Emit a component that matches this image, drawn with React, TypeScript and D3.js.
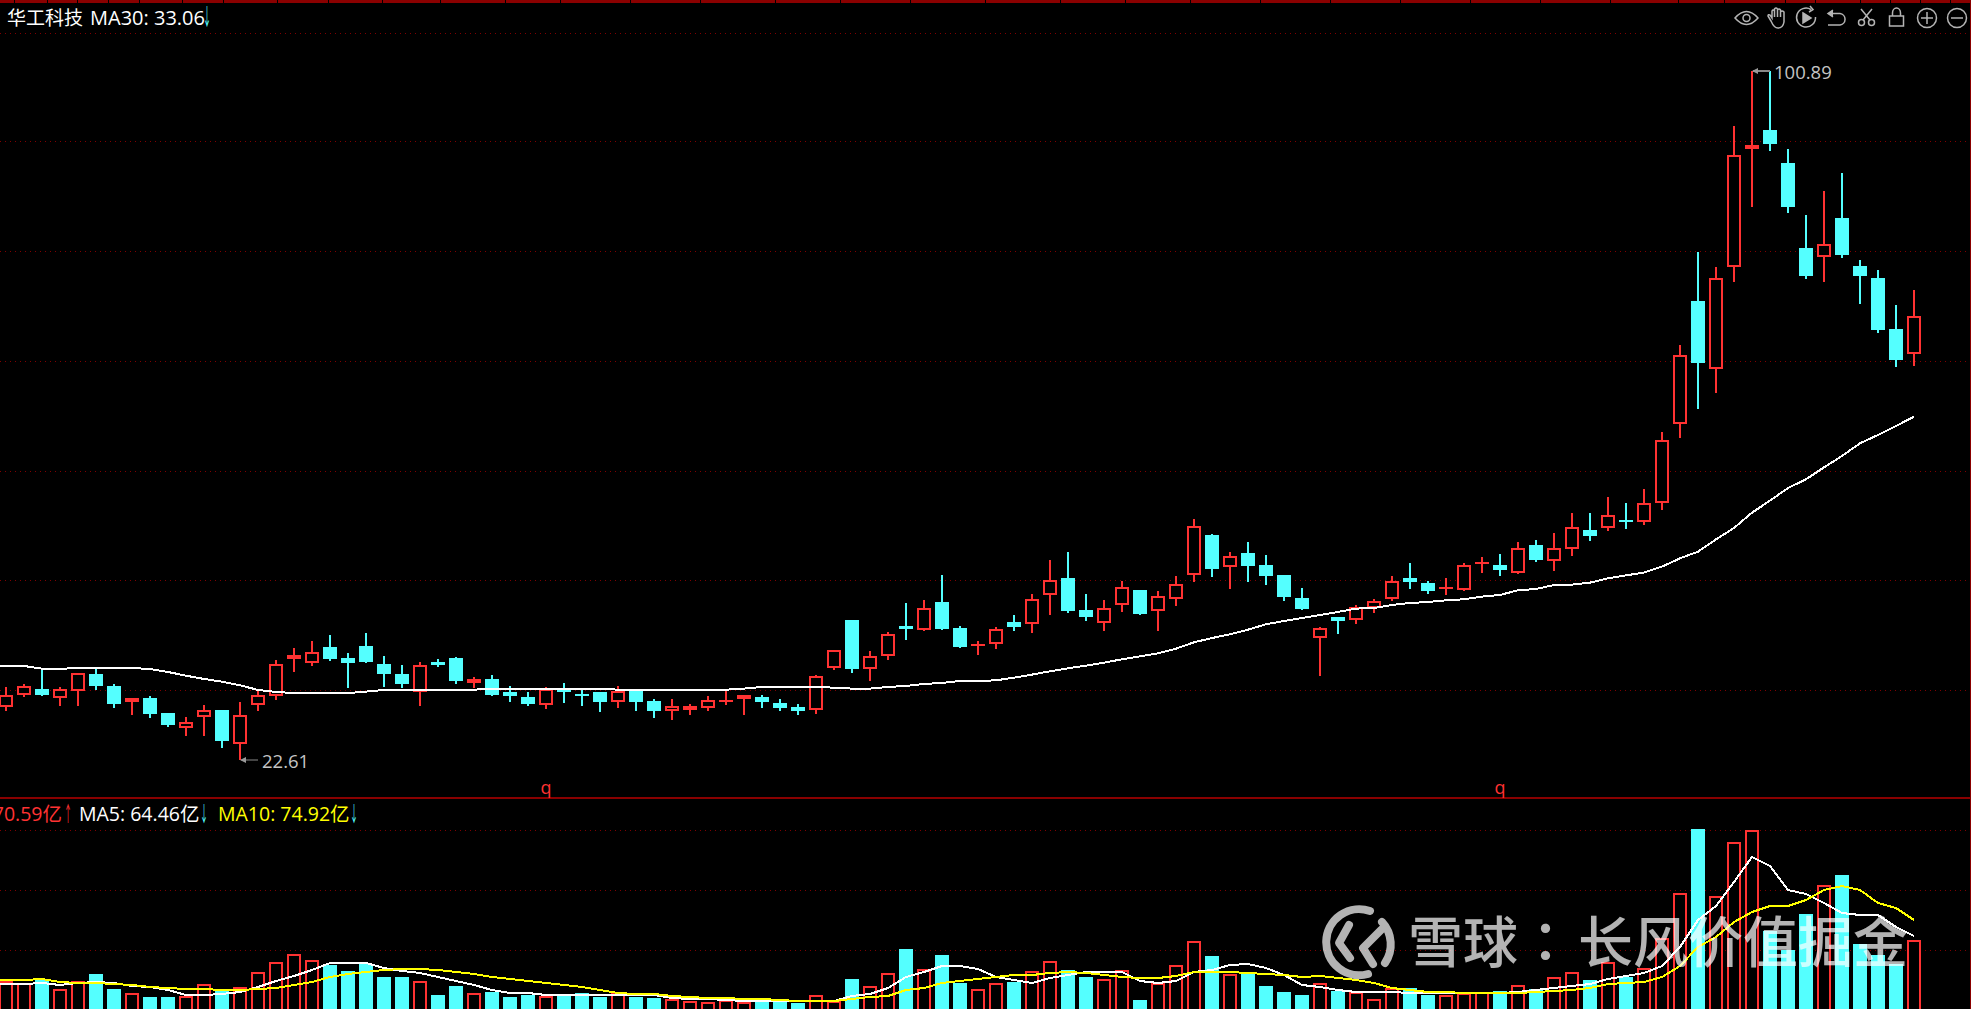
import React from "react";
import * as d3 from "d3";

const W = 1971;
const H = 1009;

const opens = [28.67,30.04,30.68,29.69,30.41,32.38,31.02,29.20,29.66,27.95,26.25,27.50,28.29,24.43,28.86,29.88,34.09,33.63,35.45,34.20,35.56,33.52,
32.38,30.34,33.75,34.20,31.36,31.82,30.34,29.77,28.86,30.68,30.11,30.34,29.20,30.45,29.32,28.18,28.29,28.52,29.20,29.54,29.77,29.09,28.63,28.29,
33.10,38.52,32.99,34.47,37.84,37.42,40.56,37.61,35.56,35.83,38.29,38.10,41.32,43.29,39.65,38.22,40.26,41.93,39.58,40.94,43.59,48.18,44.58,46.13,44.77,
43.63,41.02,36.51,38.86,38.52,39.88,40.90,43.29,42.72,42.04,41.96,44.88,44.77,43.90,47.04,45.26,46.62,48.74,49.01,49.88,49.69,51.77,
60.75,74.76,67.07,78.66,92.03,94.19,90.44,80.78,79.72,84.19,78.74,77.37,71.58,68.78];

const closes = [29.96,30.98,30.00,30.64,32.46,31.02,28.98,29.66,27.84,26.59,26.93,28.29,24.77,27.73,30.00,33.52,34.54,34.88,34.09,33.63,33.75,32.38,
31.25,33.41,33.41,31.59,31.82,30.00,29.88,28.97,30.68,30.34,29.88,29.20,30.45,29.20,28.18,28.75,28.75,29.43,29.43,30.00,29.20,28.52,28.18,32.16,
35.07,32.95,34.39,36.89,37.50,39.84,37.50,35.45,35.79,37.46,37.72,40.87,43.02,39.54,38.86,39.84,42.23,39.20,41.21,42.57,49.16,44.31,45.75,44.65,43.52,
41.13,39.77,37.61,38.40,39.96,40.64,42.91,42.84,41.81,42.27,44.73,45.11,44.20,46.66,45.33,46.66,49.05,48.06,50.41,49.65,51.77,58.93,
68.59,67.72,77.33,91.31,92.48,92.60,85.44,77.60,81.20,79.99,77.60,71.47,68.06,73.02];

const highs = [30.87,31.25,33.03,30.87,32.46,32.99,31.25,29.66,29.88,27.95,27.50,28.86,28.29,29.20,30.45,33.97,35.34,36.13,36.81,34.77,37.04,34.43,
33.41,33.75,34.09,34.31,32.04,32.27,31.02,30.34,30.91,31.36,30.68,30.34,31.02,30.57,29.54,29.54,28.97,29.88,30.45,30.00,30.00,29.54,28.97,32.27,
35.07,38.52,35.00,37.15,40.45,40.79,43.63,37.84,36.13,37.72,39.09,41.47,45.33,46.24,41.47,40.79,42.95,41.93,41.81,43.52,49.99,48.29,46.24,47.38,45.90,
43.63,42.15,37.72,38.86,40.22,40.90,43.52,44.99,42.95,43.29,44.99,45.68,46.02,47.38,47.61,48.40,50.67,50.67,52.49,51.81,53.40,59.88,
69.76,80.33,78.62,94.64,100.89,100.89,92.03,84.53,87.26,89.30,79.42,78.28,74.31,76.01];

const lows = [28.22,29.81,29.88,28.75,28.75,30.57,28.52,27.73,27.38,26.36,25.34,25.34,23.98,22.61,28.18,29.43,32.61,33.29,33.86,30.79,33.63,30.91,
30.79,28.75,33.18,31.25,30.79,29.88,29.20,28.75,28.41,29.09,28.75,28.07,28.52,28.18,27.38,27.16,27.73,28.18,28.86,27.73,28.52,28.18,27.73,27.84,
32.84,32.50,31.59,33.97,36.25,37.27,37.38,35.34,34.54,35.22,37.27,37.04,39.09,39.31,38.40,37.27,39.43,39.09,37.27,40.11,42.84,43.40,42.04,42.84,42.49,
40.68,39.65,32.16,36.93,38.06,39.31,40.68,42.04,41.47,41.36,41.81,43.86,43.52,43.74,45.11,44.09,45.79,47.49,48.63,48.86,49.31,51.02,
59.20,62.49,64.31,76.92,85.44,91.80,84.76,77.26,76.92,79.65,74.42,71.12,67.26,67.38];

const ma30 = [33.33,33.29,32.99,32.99,33.03,33.10,33.10,33.06,32.95,32.61,32.19,31.82,31.51,31.10,30.57,30.34,30.22,30.22,30.22,30.22,30.38,30.57,
30.60,30.60,30.60,30.60,30.60,30.72,30.72,30.72,30.72,30.72,30.72,30.72,30.60,30.60,30.60,30.60,30.60,30.60,30.60,30.72,30.91,30.91,30.91,30.91,
30.83,30.72,30.72,30.91,31.02,31.25,31.36,31.59,31.59,31.66,31.97,32.31,32.69,33.03,33.33,33.67,34.05,34.39,34.73,35.26,35.98,36.47,36.89,37.42,38.03,
38.40,38.75,39.09,39.43,39.81,39.88,40.22,40.45,40.56,40.75,40.87,41.17,41.36,41.89,42.04,42.49,42.53,42.76,43.25,43.59,43.90,44.58,45.52,
46.28,47.68,48.97,50.71,52.08,53.51,54.50,55.86,57.15,58.59,59.54,60.56,61.62];

const volumes = [28,26,30,20,28,35,20,16,12,12,13,25,18,22,37,47,55,49,44,38,45,32,32,28,14,23,16,17,12,14,13,13,16,12,17,12,11,
10,8,7,9,7,7,7,6,14,8,30,23,36,60,40,54,26,20,26,27,38,48,39,32,30,39,9,26,44,68,53,35,37,23,17,14,
26,18,17,10,21,21,14,14,16,17,18,24,20,32,37,29,47,32,41,71,116,180,113,167,179,78,59,95,124,134,65,54,45,69];

const volMa5 = [25,25,26,24,26,27,26,23,22,19,14,14,15,17,22,28,33,39,46,46,46,41,38,36,32,28,24,19,16,16,14,14,14,14,14,14,14,
11,10,10,9,8,8,8,8,8,8,13,15,21,32,37,43,43,40,32,29,26,31,34,37,37,37,28,26,28,37,39,44,45,41,34,24,
22,19,17,17,17,16,16,16,16,16,16,17,19,21,23,25,30,33,36,43,62,89,103,127,152,143,119,115,106,96,94,94,82,73];

const volMa10 = [29,29,30,27,26,26,25,24,22,21,20,20,19,19,20,21,24,27,32,35,37,39,40,40,39,37,35,32,30,28,26,24,22,19,16,15,15,
13,12,11,11,10,10,9,8,8,8,10,12,13,19,21,26,28,30,32,34,34,36,37,36,34,32,31,31,33,37,37,37,36,35,34,32,
33,31,29,26,21,19,17,17,16,16,16,16,17,18,19,21,25,26,27,32,43,62,72,87,97,103,103,109,119,123,119,106,101,89];

const mainGridPrices = [105.2,92.9,80.4,67.9,55.5,43.1,30.6];
const volGridValues = [179,119,59];
const topNotches = [14,47,77,108,139,182,223,277,328,382,440,505,560,630,700,775,840,910,985,1060,1125,1190,1260,1330,1400,1470,1540,1610,1678,1724,1785,1815,1860,1890,1920,1950];
const crossMarkerIdx = [30, 83];
const titleName = "华工科技";
const titleMa = "MA30: 33.06";
const volLabel = "70.59亿";
const ma5Label = "MA5: 64.46亿";
const ma10Label = "MA10: 74.92亿";
const watermarkA = "雪球";
const watermarkColon = "：";
const watermarkB = "长风价值掘金";

const RED = "#ff3232";
const CYAN = "#54ffff";
const DARK = "#8a0000";
const GRID = "#800000";
const ICON = "#b4b4b4";
const TXT = '"Open Sans","Noto Sans CJK SC",sans-serif';

const x = d3.scaleLinear().domain([0, 106]).range([6, 1914]);
const yP = d3.scaleLinear().domain([22.61, 100.89]).range([760, 71]);
const yV = d3.scaleLinear().domain([0, 180]).range([1009, 829]);

const lineP = d3.line<number>().x((_, i) => x(i - 1)).y((d) => yP(d));
const lineV = d3.line<number>().x((_, i) => x(i - 1)).y((d) => yV(d));

function Candle({ i }: { i: number }) {
  const o = opens[i], c = closes[i], hi = highs[i], lo = lows[i];
  const up = c >= o;
  const color = up ? RED : CYAN;
  const cx = x(i);
  const top = yP(Math.max(o, c));
  const bot = yP(Math.min(o, c));
  return (
    <g shapeRendering="crispEdges">
      <line x1={cx} x2={cx} y1={yP(hi)} y2={top} stroke={color} strokeWidth={2} />
      <line x1={cx} x2={cx} y1={bot} y2={yP(lo)} stroke={color} strokeWidth={2} />
      {up ? (
        <rect x={cx - 6} y={top + 1} width={12} height={Math.max(bot - top - 2, 0.01)} fill="#000" stroke={color} strokeWidth={2} />
      ) : (
        <rect x={cx - 7} y={top} width={14} height={Math.max(bot - top, 2)} fill={color} />
      )}
    </g>
  );
}

function VolBar({ i }: { i: number }) {
  const up = closes[i] >= opens[i];
  const cx = x(i);
  const top = yV(volumes[i]);
  return up ? (
    <rect x={cx - 6} y={top + 1} width={12} height={H - top} fill="#000" stroke={RED} strokeWidth={2} shapeRendering="crispEdges" />
  ) : (
    <rect x={cx - 7} y={top} width={14} height={H - top} fill={CYAN} shapeRendering="crispEdges" />
  );
}

function Arrow({ cx, y, dir, fill, size }: { cx: number; y: number; dir: string; fill: string; size: number }) {
  return (
    <text x={cx} y={y} textAnchor="middle" fill={fill} fontFamily={TXT} fontSize={size} textLength={8} lengthAdjust="spacingAndGlyphs">{dir}</text>
  );
}

function Toolbar() {
  const s = { fill: "none", stroke: ICON, strokeWidth: 1.5 };
  return (
    <g {...s}>
      <path d="M1735 18 Q1746.5 5 1758 18 Q1746.5 31 1735 18Z" />
      <circle cx={1746.5} cy={18} r={3.5} />
      <path d="M1771 21 L1768 16 Q1768 14 1770 15 L1772 18 V11 Q1773 9 1774.5 11 V17 V9 Q1776 7 1777.5 9 V17 V10 Q1779 8 1780.5 10 V17 V12 Q1782 10 1784 12 V22 Q1783 28 1778 28 Q1774 28 1771 21Z" />
      <path d="M1811 9.5 A9.5 9.5 0 1 0 1815.5 17" />
      <path d="M1810 6 L1813 9.5 L1809 12" />
      <path d="M1803 13 L1811 18 L1803 23Z" fill={ICON} />
      <path d="M1829 13.5 H1840 A5.8 5.8 0 0 1 1840 25 H1828" />
      <path d="M1833 10 L1828 13.5 L1833 17" fill={ICON} />
      <circle cx={1861.5} cy={22.5} r={3} />
      <circle cx={1871.5} cy={22.5} r={3} />
      <path d="M1863 20 L1872 9 M1870 20 L1861 9" />
      <rect x={1889.5} y={16} width={14} height={10} />
      <path d="M1892.5 16 V13 A4 5 0 0 1 1900.5 13 V16" />
      <circle cx={1927} cy={18} r={9.5} />
      <path d="M1921 18 H1933 M1927 12 V24" />
      <circle cx={1957} cy={18} r={9.5} />
      <path d="M1951 18 H1963" />
    </g>
  );
}

function Watermark() {
  const F = '"Noto Sans CJK SC"';
  return (
    <g opacity={0.7}>
      <g fill="none" stroke="#fff" strokeWidth={8} strokeLinecap="round" strokeLinejoin="round">
        <path d="M1370 911 A33 33 0 1 0 1368 974" />
        <path d="M1382 922 A33 33 0 0 1 1385 963" />
        <path d="M1349 925 L1339 943 L1350 958" />
        <path d="M1381 930 L1363 948 L1373 964" />
      </g>
      <text x={1408} y={962} fill="#fff" fontFamily={F} fontSize={55} fontWeight={500}>{watermarkA}</text>
      <text x={1518} y={962} fill="#fff" fontFamily='"Noto Sans CJK TC"' fontSize={55} fontWeight={500}>{watermarkColon}</text>
      <text x={1578} y={962} fill="#fff" fontFamily={F} fontSize={55} fontWeight={500}>{watermarkB}</text>
    </g>
  );
}

export default function App() {
  const idx = d3.range(opens.length);
  const lowLabelY = yP(22.61);
  const highLabelY = yP(100.89);
  return (
    <>
      <style>{`html,body{margin:0;padding:0;background:#000;overflow:hidden}`}</style>
      <svg width={W} height={H} viewBox={`0 0 ${W} ${H}`} style={{ display: "block", background: "#000" }}>
        {/* frame */}
        <rect x={0} y={0} width={W} height={3} fill={DARK} shapeRendering="crispEdges" />
        {topNotches.map((n) => (
          <rect key={n} x={n} y={0} width={1} height={3} fill="#000" shapeRendering="crispEdges" />
        ))}
        <rect x={1970} y={0} width={1} height={H} fill={DARK} shapeRendering="crispEdges" />
        <rect x={0} y={797} width={1970} height={2} fill={DARK} shapeRendering="crispEdges" />

        {/* grid */}
        {mainGridPrices.map((p) => (
          <line key={p} x1={0} x2={1970} y1={Math.round(yP(p)) + 0.5} y2={Math.round(yP(p)) + 0.5} stroke={GRID} strokeWidth={1} strokeDasharray="1 4" shapeRendering="crispEdges" />
        ))}
        {volGridValues.map((v) => (
          <line key={v} x1={0} x2={1970} y1={Math.round(yV(v)) + 0.5} y2={Math.round(yV(v)) + 0.5} stroke={GRID} strokeWidth={1} strokeDasharray="1 4" shapeRendering="crispEdges" />
        ))}

        {/* candles */}
        {idx.map((i) => <Candle key={i} i={i} />)}
        <path d={lineP([ma30[0], ...ma30]) as string} fill="none" stroke="#fff" strokeWidth={2} shapeRendering="crispEdges" />

        {/* extremes */}
        <g>
          <line x1={x(97) + 1} x2={x(98)} y1={highLabelY} y2={highLabelY} stroke="#888" strokeWidth={2} />
          <path d={`M${x(97)} ${highLabelY} l6 -3 v6 z`} fill="#999" />
          <text x={1774} y={highLabelY + 7.5} fill="#c4c4c4" fontFamily={TXT} fontSize={18.5}>100.89</text>
          <line x1={x(13) + 1} x2={258} y1={lowLabelY} y2={lowLabelY} stroke="#888" strokeWidth={1} />
          <path d={`M${x(13)} ${lowLabelY} l6 -3 v6 z`} fill="#999" />
          <text x={262} y={lowLabelY + 7.5} fill="#c4c4c4" fontFamily={TXT} fontSize={18.5}>22.61</text>
        </g>
        {crossMarkerIdx.map((i) => (
          <text key={i} x={x(i)} y={794} fill={RED} fontFamily={TXT} fontSize={18} textAnchor="middle">q</text>
        ))}

        {/* title */}
        <text x={7} y={25} fill="#fff" fontFamily={TXT} fontSize={19}>{titleName}</text>
        <text x={90} y={25} fill="#fff" fontFamily={TXT} fontSize={20}>{titleMa}</text>
        <Arrow cx={207} y={25} dir="↓" fill={CYAN} size={23} />
        <Toolbar />

        {/* volume */}
        {idx.map((i) => <VolBar key={i} i={i} />)}
        <path d={lineV([volMa5[0], ...volMa5]) as string} fill="none" stroke="#fff" strokeWidth={2} shapeRendering="crispEdges" />
        <path d={lineV([volMa10[0], ...volMa10]) as string} fill="none" stroke="#ffff00" strokeWidth={2} shapeRendering="crispEdges" />
        <text x={62} y={821} textAnchor="end" fill={RED} fontFamily={TXT} fontSize={19.5}>{volLabel}</text>
        <Arrow cx={68} y={821} dir="↑" fill={RED} size={21} />
        <text x={79} y={821} fill="#fff" fontFamily={TXT} fontSize={19.5}>{ma5Label}</text>
        <Arrow cx={204} y={821} dir="↓" fill={CYAN} size={21} />
        <text x={218} y={821} fill="#ffff00" fontFamily={TXT} fontSize={19.5}>{ma10Label}</text>
        <Arrow cx={354} y={821} dir="↓" fill={CYAN} size={21} />

        <Watermark />
      </svg>
    </>
  );
}
